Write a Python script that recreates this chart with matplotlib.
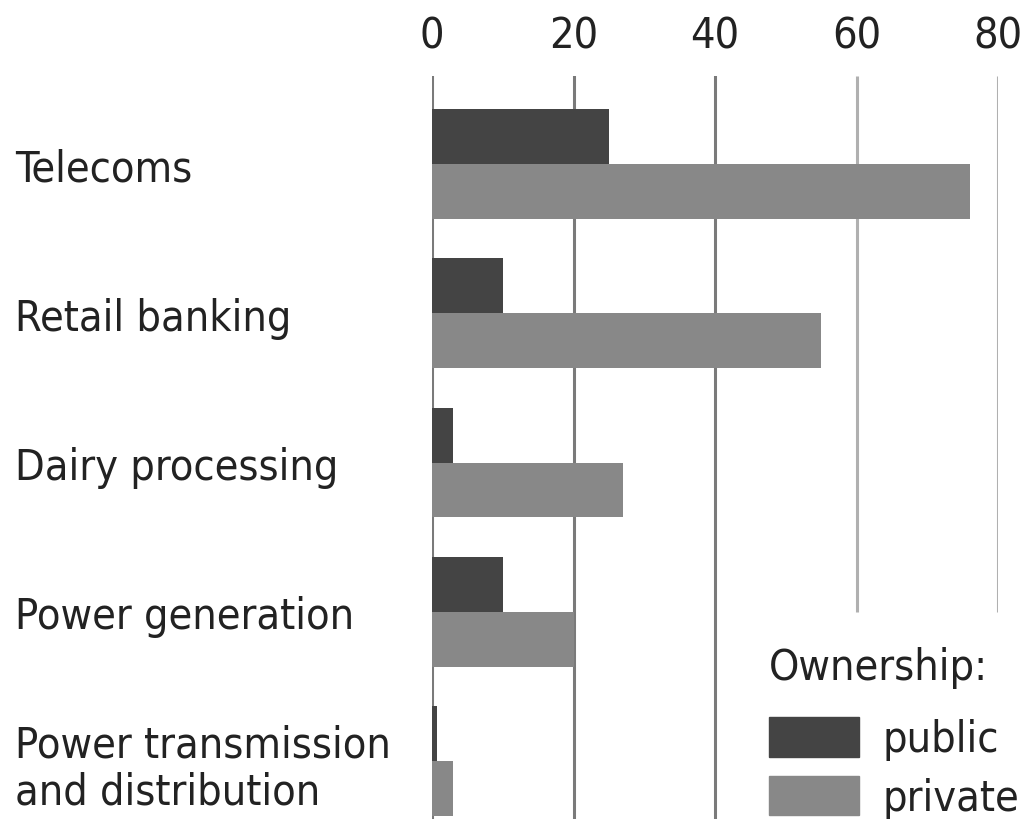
import matplotlib
matplotlib.use("Agg")
import matplotlib.pyplot as plt
import numpy as np
from matplotlib.patches import Patch

plt.rcParams['font.family'] = ['DejaVu Sans']
plt.rcParams['font.stretch'] = 'condensed'

categories = ["Telecoms", "Retail banking", "Dairy processing", "Power generation",
              "Power transmission\nand distribution"]
public = [25, 10, 3, 10, 0.7]
private = [76, 55, 27, 20, 3]
ticks = [0, 20, 40, 60, 80]

dark, mid = "#444444", "#888888"
txt = "#222222"
fs = 31

fig = plt.figure(figsize=(10.3, 8.2), dpi=100)
ax = fig.add_axes([432 / 1030, 0, (998 - 432) / 1030, 1 - 77 / 820])

y = np.arange(len(categories))
h = 0.368
ax.barh(y - h / 2, public, height=h, color=dark, zorder=3)
ax.barh(y + h / 2, private, height=h, color=mid, zorder=3)

ax.set_xlim(0, 80)
ax.set_ylim(4.388, -0.589)

# gridlines: 60 and 80 stop above the legend
for t in ticks:
    if t < 60:
        ax.axvline(t, color="#7a7a7a", lw=2.2, zorder=1)
    else:
        ax.vlines(t, -0.589, 3.0, color="#b0b0b0", lw=2.2, zorder=1)

ax.xaxis.tick_top()
ax.set_xticks(ticks)
ax.set_xticklabels([str(t) for t in ticks], fontsize=fs, color=txt)
ax.tick_params(axis="x", length=0, pad=14)

ax.set_yticks(y)
ax.set_yticklabels(categories, fontsize=fs, color=txt, ha="left", linespacing=1.15)
ax.tick_params(axis="y", length=0, pad=300)

for s in ax.spines.values():
    s.set_visible(False)

handles = [Patch(color=dark, label="public"), Patch(color=mid, label="private")]
leg = ax.legend(handles=handles, title="Ownership:", loc="lower left",
                bbox_to_anchor=(743 / 1030, -26 / 820), bbox_transform=fig.transFigure,
                frameon=False, fontsize=fs, title_fontsize=fs, handlelength=2.1,
                handleheight=1.05, handletextpad=0.55, labelspacing=0.35,
                borderpad=0.1, alignment="left")
leg._legend_box.sep = 21
leg.get_title().set_color(txt)
for t in leg.get_texts():
    t.set_color(txt)

fig.savefig("out.png", dpi=100)
